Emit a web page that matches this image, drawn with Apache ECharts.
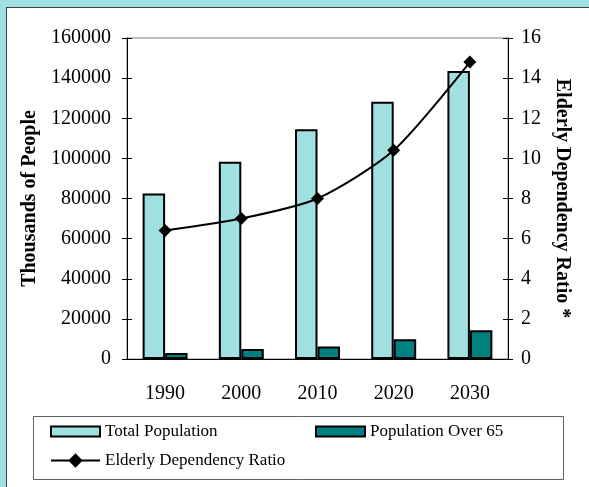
<!DOCTYPE html>
<html>
<head>
<meta charset="utf-8">
<script src="https://cdn.jsdelivr.net/npm/echarts@6/dist/echarts.min.js"></script>
<style>
  body { margin: 0; background: #a0e0e0; }
  #panel { position: absolute; left: 6px; top: 7px; right: 0; bottom: 0; background: #fff; border-left: 1px solid #404040; border-top: 1px solid #404040; }
  #main { position: absolute; left: 0; top: 0; width: 589px; height: 487px; }
</style>
</head>
<body>
<div id="panel"></div>
<div id="main"></div>
<script>
var years = ['1990', '2000', '2010', '2020', '2030'];
var totalPopulation = [82500, 98300, 114500, 128200, 143500];
var over65 = [3000, 5000, 6200, 9800, 14300];
var dependencyRatio = [6.4, 7.0, 8.0, 10.4, 14.8];

var FONT = 'Liberation Serif';

var chart = echarts.init(document.getElementById('main'));

// extra axes only draw the inner half of the ticks, so ticks cross the axis line
function hiddenY(pos, max, interval) {
  return {
    type: 'value', position: pos, min: 0, max: max, interval: interval,
    axisLine: { show: false }, axisLabel: { show: false }, splitLine: { show: false },
    axisTick: { show: true, inside: true, length: 5, lineStyle: { color: '#000' } }
  };
}

function plain(v) { return String(v); }

chart.setOption({
  backgroundColor: 'transparent',
  animation: false,
  grid: {
    left: 127, right: 81, top: 38, bottom: 128,
    show: true, backgroundColor: '#fff', borderColor: '#808080', borderWidth: 1
  },
  legend: [
    {
      data: ['Total Population'], left: 50, top: 423, padding: 0,
      itemWidth: 49, itemHeight: 10, icon: 'rect',
      textStyle: { fontFamily: FONT, fontSize: 17, color: '#000' }
    },
    {
      data: ['Population Over 65'], left: 315, top: 423, padding: 0,
      itemWidth: 49, itemHeight: 10, icon: 'rect',
      textStyle: { fontFamily: FONT, fontSize: 17, color: '#000' }
    },
    {
      data: ['Elderly Dependency Ratio'], left: 50, top: 452, padding: 0,
      itemWidth: 49, itemHeight: 18,
      textStyle: { fontFamily: FONT, fontSize: 17, color: '#000' }
    }
  ],
  graphic: [{
    type: 'rect', silent: true,
    shape: { x: 33.5, y: 416.5, width: 530, height: 63 },
    style: { fill: 'none', stroke: '#606060', lineWidth: 1 }
  }],
  xAxis: [
    {
      type: 'category', data: years, position: 'bottom',
      axisLine: { lineStyle: { color: '#000', width: 1 } },
      axisTick: { length: 5, lineStyle: { color: '#000' } },
      axisLabel: { fontFamily: FONT, fontSize: 20, color: '#000', margin: 25 }
    },
    {
      type: 'category', data: years, position: 'bottom',
      axisLine: { show: false }, axisLabel: { show: false },
      axisTick: { inside: true, length: 5, lineStyle: { color: '#000' } }
    }
  ],
  yAxis: [
    {
      type: 'value', position: 'left', min: 0, max: 160000, interval: 20000,
      name: 'Thousands of People', nameLocation: 'middle', nameRotate: 90, nameGap: 80,
      nameTextStyle: { fontFamily: FONT, fontSize: 20, fontWeight: 'bold', color: '#000' },
      axisLine: { show: true, lineStyle: { color: '#000' } },
      axisTick: { show: true, length: 5, lineStyle: { color: '#000' } },
      axisLabel: { fontFamily: FONT, fontSize: 20, color: '#000', margin: 16, formatter: plain },
      splitLine: { show: false }
    },
    {
      type: 'value', position: 'right', min: 0, max: 16, interval: 2,
      name: 'Elderly Dependency Ratio *', nameLocation: 'middle', nameRotate: -90, nameGap: 39,
      nameTextStyle: { fontFamily: FONT, fontSize: 20, fontWeight: 'bold', color: '#000' },
      axisLine: { show: true, lineStyle: { color: '#000' } },
      axisTick: { show: true, length: 5, lineStyle: { color: '#000' } },
      axisLabel: { fontFamily: FONT, fontSize: 20, color: '#000', margin: 13, formatter: plain },
      splitLine: { show: false }
    },
    hiddenY('left', 160000, 20000),
    hiddenY('right', 16, 2)
  ],
  series: [
    {
      name: 'Total Population', type: 'bar', data: totalPopulation,
      barGap: '0%', barCategoryGap: '41%',
      itemStyle: { color: '#a0e0e0', borderColor: '#000', borderWidth: 2 }
    },
    {
      name: 'Population Over 65', type: 'bar', data: over65,
      barGap: '0%', barCategoryGap: '41%',
      itemStyle: { color: '#008080', borderColor: '#000', borderWidth: 2 }
    },
    {
      name: 'Elderly Dependency Ratio', type: 'line', yAxisIndex: 1, data: dependencyRatio,
      smooth: 0.25, symbol: 'diamond', symbolSize: 13,
      lineStyle: { color: '#000', width: 2 },
      itemStyle: { color: '#000' }, z: 5
    }
  ]
});
</script>
</body>
</html>
